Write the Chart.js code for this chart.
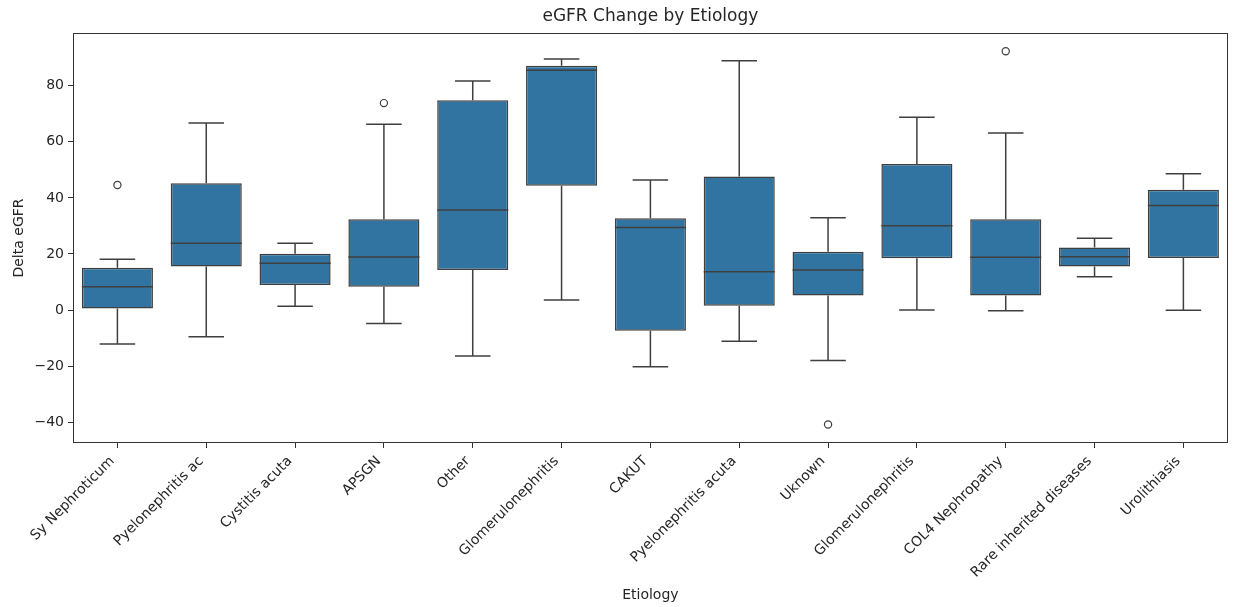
<!DOCTYPE html>
<html>
<head>
<meta charset="utf-8">
<script src="https://cdn.jsdelivr.net/npm/chart.js@4.4.1/dist/chart.umd.min.js"></script>
<style>
html,body{margin:0;padding:0;background:#ffffff;}
#wrap{width:1233px;height:607px;}
</style>
</head>
<body>
<div id="wrap"><canvas id="c" width="1233" height="607"></canvas></div>
<script>
// ---- data ----
const categories = ['Sy Nephroticum','Pyelonephritis ac','Cystitis acuta','APSGN','Other','Glomerulonephritis','CAKUT','Pyelonephritis acuta','Uknown','Glomerulonephritis','COL4 Nephropathy','Rare inherited diseases','Urolithiasis'];
const whiskerLow  = [-12.1, -9.5,  1.4, -4.8, -16.4,  3.6, -20.2, -11.1, -18.0,  0.0, -0.2, 11.9, -0.1];
const q1          = [  0.6, 15.5,  8.9,  8.3,  14.3, 44.3,  -7.4,   1.5,   5.2, 18.5,  5.2, 15.5, 18.6];
const median      = [  8.3, 23.8, 16.7, 18.9,  35.7, 85.5,  29.4,  13.7,  14.3, 30.1, 18.8, 19.0, 37.3];
const q3          = [ 15.1, 45.2, 20.1, 32.4,  74.8, 87.1,  32.7,  47.6,  20.8, 52.1, 32.4, 22.3, 42.9];
const whiskerHigh = [ 18.1, 66.7, 23.8, 66.3,  81.7, 89.5,  46.4,  88.9,  32.9, 68.8, 63.1, 25.6, 48.6];
const outliers    = [ 44.6, null, null, 73.8,  null, null,  null,  null, -40.8, null, 92.3, null, null];
const yTicks = [-40, -20, 0, 20, 40, 60, 80];
const yMin = -47.4, yMax = 98.8;

const BOX = '#3274a1';
const LINE = '#3f3f3f';
const TEXT = '#262626';
const FONT = "'DejaVu Sans', sans-serif";

const boxParts = {
  id: 'boxParts',
  afterDatasetsDraw(chart) {
    const ctx = chart.ctx;
    const y = chart.scales.y;
    const meta = chart.getDatasetMeta(0);
    ctx.save();
    ctx.strokeStyle = LINE;
    ctx.lineWidth = 1.5;
    categories.forEach((c, i) => {
      const el = meta.data[i];
      if (!el) return;
      const cx = el.x, w = el.width, cap = w / 4;
      const pHi = y.getPixelForValue(whiskerHigh[i]);
      const pLo = y.getPixelForValue(whiskerLow[i]);
      const pQ3 = y.getPixelForValue(q3[i]);
      const pQ1 = y.getPixelForValue(q1[i]);
      const pMed = y.getPixelForValue(median[i]);
      ctx.beginPath();
      ctx.moveTo(cx, pQ3); ctx.lineTo(cx, pHi);
      ctx.moveTo(cx - cap, pHi); ctx.lineTo(cx + cap, pHi);
      ctx.moveTo(cx, pQ1); ctx.lineTo(cx, pLo);
      ctx.moveTo(cx - cap, pLo); ctx.lineTo(cx + cap, pLo);
      ctx.moveTo(cx - w / 2, pMed); ctx.lineTo(cx + w / 2, pMed);
      ctx.stroke();
    });
    ctx.restore();
  },
  afterDraw(chart) {
    const {ctx, chartArea: a} = chart;
    ctx.save();
    ctx.strokeStyle = '#333333';
    ctx.lineWidth = 1;
    ctx.strokeRect(Math.round(a.left) + 0.5, Math.round(a.top) + 0.5,
                   Math.round(a.right - a.left) - 1, Math.round(a.bottom - a.top) - 1);
    ctx.restore();
  }
};

Chart.defaults.font.family = FONT;
Chart.defaults.color = TEXT;

new Chart(document.getElementById('c'), {
  type: 'bar',
  data: {
    labels: categories,
    datasets: [
      {
        type: 'bar',
        label: 'box',
        data: categories.map((c, i) => [q1[i], q3[i]]),
        backgroundColor: BOX,
        borderColor: LINE,
        borderWidth: 1.5,
        borderSkipped: false,
        barPercentage: 0.8,
        categoryPercentage: 1.0
      },
      {
        type: 'line',
        label: 'outliers',
        data: outliers,
        showLine: false,
        pointRadius: 3.6,
        pointBorderWidth: 1.2,
        pointBorderColor: LINE,
        pointBackgroundColor: 'rgba(0,0,0,0)'
      }
    ]
  },
  options: {
    responsive: false,
    animation: false,
    devicePixelRatio: 1,
    layout: {padding: {left: 0, right: 4, top: 0, bottom: 0}},
    plugins: {
      legend: {display: false},
      tooltip: {enabled: false},
      title: {
        display: true,
        text: 'eGFR Change by Etiology',
        fullSize: false,
        color: TEXT,
        font: {family: FONT, size: 17, weight: 'normal', lineHeight: 1.2},
        padding: {top: 6, bottom: 6.6}
      }
    },
    scales: {
      x: {
        type: 'category',
        offset: true,
        grid: {display: true, drawOnChartArea: false, drawTicks: true, tickLength: 5, color: '#333333', offset: false},
        border: {display: false},
        ticks: {autoSkip: false, minRotation: 45, maxRotation: 45, padding: 5, labelOffset: -5, color: TEXT, font: {size: 14}},
        title: {display: true, text: 'Etiology', color: TEXT, font: {size: 14}, padding: {top: 4, bottom: 3}},
        afterFit(scale) { scale.height = 164; }
      },
      y: {
        type: 'linear',
        min: yMin,
        max: yMax,
        grid: {display: true, drawOnChartArea: false, drawTicks: true, tickLength: 5, color: '#333333'},
        border: {display: false},
        afterBuildTicks(scale) { scale.ticks = yTicks.map(v => ({value: v})); },
        ticks: {
          padding: 4,
          color: TEXT,
          font: {size: 14},
          callback: v => (v < 0 ? '\u2212' + Math.abs(v) : String(v))
        },
        title: {display: true, text: 'Delta eGFR', color: TEXT, font: {size: 14}, padding: {top: 11, bottom: 0}},
        afterFit(scale) { scale.width = 73; }
      }
    }
  },
  plugins: [boxParts]
});
</script>
</body>
</html>
